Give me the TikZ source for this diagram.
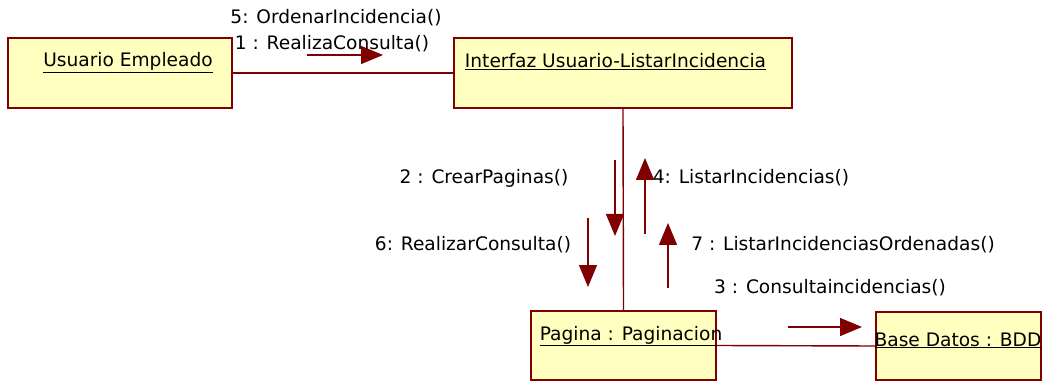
\documentclass[tikz,border=0pt]{standalone}
\usepackage{fontspec}
\setmainfont{DejaVu Sans}
\usetikzlibrary{arrows.meta}
\definecolor{umlred}{HTML}{800000}
\definecolor{umlyel}{HTML}{FFFFC0}
\begin{document}
\begin{tikzpicture}[x=1pt,y=-1pt, every node/.style={font=\fontsize{18.6}{21}\selectfont,inner sep=0pt,anchor=base},
  obj/.style={draw=umlred,fill=umlyel,line width=1.6pt,anchor=center},
  lnk/.style={draw=umlred,line width=1.4pt},
  msg/.style={draw=umlred,line width=1.4pt,-{Triangle[length=22pt,width=18pt]}}]
\useasboundingbox (0,0) rectangle (1047,382);
% objects
\node[obj,minimum width=224pt,minimum height=70pt] (ue) at (120,73) {};
\node[obj,minimum width=338pt,minimum height=70pt] (ui) at (623,73) {};
\node[obj,minimum width=185pt,minimum height=69pt] (pg) at (623.5,345.5) {};
\node[obj,minimum width=165pt,minimum height=68pt] (bd) at (958.5,346) {};
\node (uet) at (128,67) {\underline{Usuario Empleado}};
\node (uit) at (615.5,68) {\underline{Interfaz Usuario-ListarIncidencia}};
\node (pgt) at (631,340) {\underline{Pagina : Paginacion}};
\node (bdt) at (958,346) {\underline{Base Datos : BDD}};
% links
\draw[lnk] (ue.east) -- (ui.west);
\draw[lnk] (ui.south) -- (pg.north);
\draw[lnk] (pg.east) -- (bd.west);
% messages
\coordinate (m1a) at (307,55); \coordinate (m1b) at (383,55);
\coordinate (m2a) at (615,160); \coordinate (m2b) at (615,236);
\coordinate (m4a) at (645,234); \coordinate (m4b) at (645,158);
\coordinate (m6a) at (588,218); \coordinate (m6b) at (588,287);
\coordinate (m7a) at (668,288); \coordinate (m7b) at (668,223);
\coordinate (m3a) at (788,327); \coordinate (m3b) at (862,327);
\draw[msg] (m1a) -- (m1b);\draw[msg] (m2a) -- (m2b);\draw[msg] (m4a) -- (m4b);
\draw[msg] (m6a) -- (m6b);\draw[msg] (m7a) -- (m7b);\draw[msg] (m3a) -- (m3b);
\node (l5) at (336,24) {5: OrdenarIncidencia()};
\node (l1) at (332,50) {1 : RealizaConsulta()};
\node (l2) at (484,184) {2 : CrearPaginas()};
\node (l4) at (751,184) {4: ListarIncidencias()};
\node (l6) at (473,251) {6: RealizarConsulta()};
\node (l7) at (843,251) {7 : ListarIncidenciasOrdenadas()};
\node (l3) at (830,293) {3 : Consultaincidencias()};
\end{tikzpicture}
\end{document}
